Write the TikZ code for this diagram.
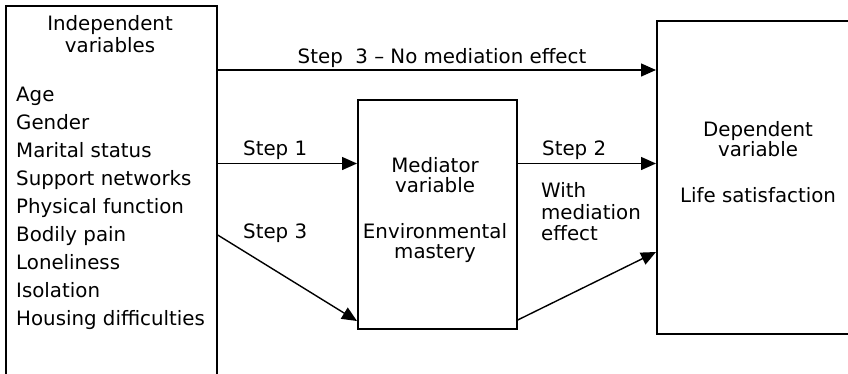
\documentclass[tikz,border=0pt]{standalone}
\usepackage{fontspec}
\setmainfont{DejaVu Sans}
\usetikzlibrary{arrows.meta}
\begin{document}
\begin{tikzpicture}[x=1pt,y=-1pt,
  box/.style={draw,line width=1.7pt,inner sep=0pt},
  arr/.style={line width=1.4pt,-{Triangle[length=15pt,width=13pt]}},
  lbl/.style={font=\fontsize{19.8}{20}\selectfont,inner sep=0pt},
]
\useasboundingbox (0,0) rectangle (848,373);
\clip (0,0) rectangle (848,373);
% boxes
\node[box,minimum width=211pt,minimum height=400pt,anchor=north west] (ind) at (5,5) {};
\node[box,minimum width=159pt,minimum height=229pt,anchor=north west] (med) at (357,99) {};
\node[box,minimum width=260pt,minimum height=313pt,anchor=north west] (dep) at (656,20) {};
% levels
\coordinate (ytop) at (0,70);
\coordinate (ys1) at (0,163.5);
\coordinate (ys3a) at (0,235);
\coordinate (ys3b) at (0,321);
\coordinate (ywa) at (0,320);
\coordinate (ywb) at (0,252);
% texts
\node[lbl,align=center,anchor=north,font=\fontsize{19.8}{22}\selectfont] (indt) at (110,15) {Independent\\variables};
\node[lbl,align=left,anchor=north west,font=\fontsize{19.8}{28}\selectfont] (list) at (16,86.5)
  {Age\\Gender\\Marital status\\Support networks\\Physical\ function\\Bodily pain\\Loneliness\\Isolation\\Housing difficulties};
\node[lbl,align=center,anchor=north,font=\fontsize{19.8}{20}\selectfont] (medt) at (435,157)
  {Mediator\\variable\\[26pt]Environmental\\mastery};
\node[lbl,align=center,anchor=north,font=\fontsize{19.8}{20}\selectfont] (dept) at (758,121)
  {Dependent\\variable\\[26pt]Life satisfaction};
\node[lbl,anchor=base] (s3top) at (442,63) {Step\ \ 3 – No mediation effect};
\node[lbl,anchor=base west] (s1) at (243,155) {Step 1};
\node[lbl,anchor=base west] (s3) at (243,238) {Step 3};
\node[lbl,anchor=base west] (s2) at (542,155) {Step 2};
\node[lbl,align=left,anchor=north west,font=\fontsize{19.8}{21.5}\selectfont] (wm) at (541,182.5) {With\\mediation\\effect};
% arrows
\draw[arr] (ind.east |- ytop) -- (dep.west |- ytop);
\draw[arr] (ind.east |- ys1) -- (med.west |- ys1);
\draw[arr] (med.east |- ys1) -- (dep.west |- ys1);
\draw[arr] (ind.east |- ys3a) -- (med.west |- ys3b);
\draw[arr] (med.east |- ywa) -- (dep.west |- ywb);
\end{tikzpicture}
\end{document}
